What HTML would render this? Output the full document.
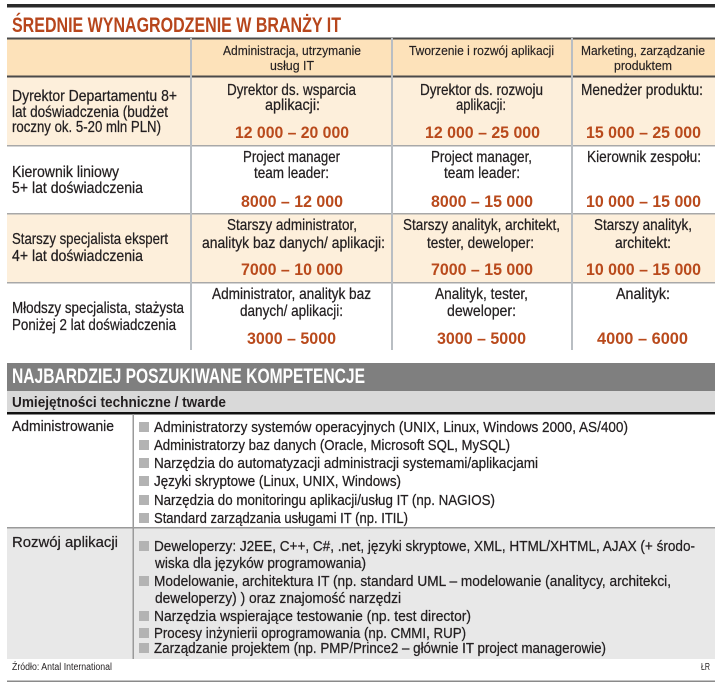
<!DOCTYPE html>
<html><head><meta charset="utf-8"><style>
html,body{margin:0;padding:0;background:#fff;}
svg{display:block;}
</style></head><body>
<svg width="718" height="691" xmlns="http://www.w3.org/2000/svg" font-family="'Liberation Sans Narrow','Liberation Sans',sans-serif" fill="#231f20">
<rect width="718" height="691" fill="#fff"/>
<rect x="7" y="4" width="708" height="3.5" fill="#2b2b2b"/>
<text x="12" y="32" font-size="21" font-weight="bold" fill="#b7461c" textLength="329" lengthAdjust="spacingAndGlyphs">ŚREDNIE WYNAGRODZENIE W BRANŻY IT</text>

<!-- table 1 backgrounds -->
<rect x="7" y="38" width="708" height="38" fill="#fde2ba"/>
<rect x="7" y="77" width="708" height="68" fill="#fdefdb"/>
<rect x="7" y="214" width="708" height="68" fill="#fdefdb"/>
<rect x="7" y="37.5" width="708" height="2" fill="#4a4a4a"/>
<rect x="7" y="75.5" width="708" height="2" fill="#4a4a4a"/>
<rect x="7" y="145" width="708" height="1.5" fill="#a8a8a8"/>
<rect x="7" y="213" width="708" height="1.5" fill="#a8a8a8"/>
<rect x="7" y="282" width="708" height="1.5" fill="#a8a8a8"/>
<rect x="190" y="38" width="2" height="312" fill="#b9bec3"/>
<rect x="391" y="38" width="2" height="312" fill="#b9bec3"/>
<rect x="571" y="38" width="2" height="312" fill="#b9bec3"/>

<!-- header -->
<g font-size="12.5" stroke="#231f20" stroke-width="0.15">
<text x="223" y="55" textLength="138" lengthAdjust="spacingAndGlyphs">Administracja, utrzymanie</text>
<text x="270" y="70" textLength="44" lengthAdjust="spacingAndGlyphs">usług IT</text>
<text x="409" y="55" textLength="145" lengthAdjust="spacingAndGlyphs">Tworzenie i rozwój aplikacji</text>
<text x="581" y="55" textLength="124" lengthAdjust="spacingAndGlyphs">Marketing, zarządzanie</text>
<text x="614" y="70" textLength="58" lengthAdjust="spacingAndGlyphs">produktem</text>
</g>

<!-- rows body -->
<g font-size="16" stroke="#231f20" stroke-width="0.25">
<text x="12" y="101" textLength="165" lengthAdjust="spacingAndGlyphs">Dyrektor Departamentu 8+</text>
<text x="12" y="117" textLength="156" lengthAdjust="spacingAndGlyphs">lat doświadczenia (budżet</text>
<text x="12" y="132" textLength="149" lengthAdjust="spacingAndGlyphs">roczny ok. 5-20 mln PLN)</text>
<text x="227" y="95" textLength="129" lengthAdjust="spacingAndGlyphs">Dyrektor ds. wsparcia</text>
<text x="265" y="110" textLength="55" lengthAdjust="spacingAndGlyphs">aplikacji:</text>
<text x="420" y="95" textLength="123" lengthAdjust="spacingAndGlyphs">Dyrektor ds. rozwoju</text>
<text x="456" y="110" textLength="50" lengthAdjust="spacingAndGlyphs">aplikacji:</text>
<text x="581" y="95" textLength="122" lengthAdjust="spacingAndGlyphs">Menedżer produktu:</text>

<text x="12" y="177" textLength="107" lengthAdjust="spacingAndGlyphs">Kierownik liniowy</text>
<text x="12" y="193" textLength="131" lengthAdjust="spacingAndGlyphs">5+ lat doświadczenia</text>
<text x="243" y="162" textLength="97" lengthAdjust="spacingAndGlyphs">Project manager</text>
<text x="254" y="178" textLength="75" lengthAdjust="spacingAndGlyphs">team leader:</text>
<text x="431" y="162" textLength="101" lengthAdjust="spacingAndGlyphs">Project manager,</text>
<text x="444" y="178" textLength="76" lengthAdjust="spacingAndGlyphs">team leader:</text>
<text x="587" y="162" textLength="114" lengthAdjust="spacingAndGlyphs">Kierownik zespołu:</text>

<text x="12" y="244" textLength="156" lengthAdjust="spacingAndGlyphs">Starszy specjalista ekspert</text>
<text x="12" y="261" textLength="131" lengthAdjust="spacingAndGlyphs">4+ lat doświadczenia</text>
<text x="227" y="230" textLength="130" lengthAdjust="spacingAndGlyphs">Starszy administrator,</text>
<text x="202" y="248" textLength="183" lengthAdjust="spacingAndGlyphs">analityk baz danych/ aplikacji:</text>
<text x="403" y="230" textLength="157" lengthAdjust="spacingAndGlyphs">Starszy analityk, architekt,</text>
<text x="427" y="248" textLength="107" lengthAdjust="spacingAndGlyphs">tester, deweloper:</text>
<text x="594" y="230" textLength="98" lengthAdjust="spacingAndGlyphs">Starszy analityk,</text>
<text x="615" y="248" textLength="56" lengthAdjust="spacingAndGlyphs">architekt:</text>

<text x="12" y="313" textLength="172" lengthAdjust="spacingAndGlyphs">Młodszy specjalista, stażysta</text>
<text x="12" y="330" textLength="164" lengthAdjust="spacingAndGlyphs">Poniżej 2 lat doświadczenia</text>
<text x="212" y="299" textLength="159" lengthAdjust="spacingAndGlyphs">Administrator, analityk baz</text>
<text x="240" y="316" textLength="103" lengthAdjust="spacingAndGlyphs">danych/ aplikacji:</text>
<text x="435" y="299" textLength="93" lengthAdjust="spacingAndGlyphs">Analityk, tester,</text>
<text x="447" y="316" textLength="69" lengthAdjust="spacingAndGlyphs">deweloper:</text>
<text x="616" y="299" textLength="54" lengthAdjust="spacingAndGlyphs">Analityk:</text>
</g>

<!-- salaries -->
<g font-size="17" font-weight="bold" fill="#b94a1c">
<text x="235" y="138" textLength="114" lengthAdjust="spacingAndGlyphs">12 000 – 20 000</text>
<text x="425" y="138" textLength="115" lengthAdjust="spacingAndGlyphs">12 000 – 25 000</text>
<text x="586" y="138" textLength="115" lengthAdjust="spacingAndGlyphs">15 000 – 25 000</text>
<text x="241" y="207" textLength="102" lengthAdjust="spacingAndGlyphs">8000 – 12 000</text>
<text x="431" y="207" textLength="102" lengthAdjust="spacingAndGlyphs">8000 – 15 000</text>
<text x="586" y="207" textLength="115" lengthAdjust="spacingAndGlyphs">10 000 – 15 000</text>
<text x="241" y="275" textLength="102" lengthAdjust="spacingAndGlyphs">7000 – 10 000</text>
<text x="431" y="275" textLength="102" lengthAdjust="spacingAndGlyphs">7000 – 15 000</text>
<text x="586" y="275" textLength="115" lengthAdjust="spacingAndGlyphs">10 000 – 15 000</text>
<text x="247" y="344" textLength="89" lengthAdjust="spacingAndGlyphs">3000 – 5000</text>
<text x="437" y="344" textLength="89" lengthAdjust="spacingAndGlyphs">3000 – 5000</text>
<text x="597" y="344" textLength="91" lengthAdjust="spacingAndGlyphs">4000 – 6000</text>
</g>

<!-- section 2 -->
<rect x="7" y="363" width="708" height="28" fill="#7f7f7f"/>
<text x="12" y="383" font-size="21" font-weight="bold" fill="#fff" textLength="353" lengthAdjust="spacingAndGlyphs">NAJBARDZIEJ POSZUKIWANE KOMPETENCJE</text>
<rect x="7" y="391" width="708" height="22" fill="#d9d9d9"/>
<text x="12" y="407" font-size="15" font-weight="bold" textLength="214" lengthAdjust="spacingAndGlyphs">Umiejętności techniczne / twarde</text>
<rect x="7" y="412" width="708" height="2.5" fill="#111"/>

<rect x="7" y="528" width="708" height="131" fill="#e8e8e8"/>
<rect x="7" y="527" width="708" height="1.5" fill="#9a9a9a"/>
<rect x="132.5" y="414" width="1.5" height="245" fill="#9a9a9a"/>

<g font-size="15" stroke="#231f20" stroke-width="0.25">
<text x="12" y="431" textLength="102" lengthAdjust="spacingAndGlyphs">Administrowanie</text>
<text x="12" y="547" textLength="106" lengthAdjust="spacingAndGlyphs">Rozwój aplikacji</text>

<text x="154" y="432" textLength="474" lengthAdjust="spacingAndGlyphs">Administratorzy systemów operacyjnych (UNIX, Linux, Windows 2000, AS/400)</text>
<text x="154" y="450" textLength="356" lengthAdjust="spacingAndGlyphs">Administratorzy baz danych (Oracle, Microsoft SQL, MySQL)</text>
<text x="154" y="468" textLength="384" lengthAdjust="spacingAndGlyphs">Narzędzia do automatyzacji administracji systemami/aplikacjami</text>
<text x="154" y="486" textLength="247" lengthAdjust="spacingAndGlyphs">Języki skryptowe (Linux, UNIX, Windows)</text>
<text x="154" y="505" textLength="341" lengthAdjust="spacingAndGlyphs">Narzędzia do monitoringu aplikacji/usług IT (np. NAGIOS)</text>
<text x="154" y="523" textLength="254" lengthAdjust="spacingAndGlyphs">Standard zarządzania usługami IT (np. ITIL)</text>

<text x="154" y="551" textLength="541" lengthAdjust="spacingAndGlyphs">Deweloperzy: J2EE, C++, C#, .net, języki skryptowe, XML, HTML/XHTML, AJAX (+ środo-</text>
<text x="155" y="568" textLength="211" lengthAdjust="spacingAndGlyphs">wiska dla języków programowania)</text>
<text x="154" y="586" textLength="517" lengthAdjust="spacingAndGlyphs">Modelowanie, architektura IT (np. standard UML – modelowanie (analitycy, architekci,</text>
<text x="155" y="603" textLength="246" lengthAdjust="spacingAndGlyphs">deweloperzy) ) oraz znajomość narzędzi</text>
<text x="154" y="621" textLength="317" lengthAdjust="spacingAndGlyphs">Narzędzia wspierające testowanie (np. test director)</text>
<text x="154" y="638" textLength="312" lengthAdjust="spacingAndGlyphs">Procesy inżynierii oprogramowania (np. CMMI, RUP)</text>
<text x="154" y="653" textLength="452" lengthAdjust="spacingAndGlyphs">Zarządzanie projektem (np. PMP/Prince2 – głównie IT project managerowie)</text>
</g>

<g fill="#b3b3b3">
<rect x="139" y="422" width="10" height="10"/>
<rect x="139" y="440" width="10" height="10"/>
<rect x="139" y="458" width="10" height="10"/>
<rect x="139" y="476" width="10" height="10"/>
<rect x="139" y="495" width="10" height="10"/>
<rect x="139" y="513" width="10" height="10"/>
<rect x="139" y="541" width="10" height="10"/>
<rect x="139" y="576" width="10" height="10"/>
<rect x="139" y="611" width="10" height="10"/>
<rect x="139" y="628" width="10" height="10"/>
<rect x="139" y="643" width="10" height="10"/>
</g>

<!-- footer -->
<text x="12" y="670" font-size="10" textLength="100" lengthAdjust="spacingAndGlyphs">Źródło: Antal International</text>
<text x="701" y="670" font-size="10" textLength="9" lengthAdjust="spacingAndGlyphs">ŁR</text>
<rect x="7" y="680.5" width="708" height="1.5" fill="#8a8a8a"/>
</svg>
</body></html>
